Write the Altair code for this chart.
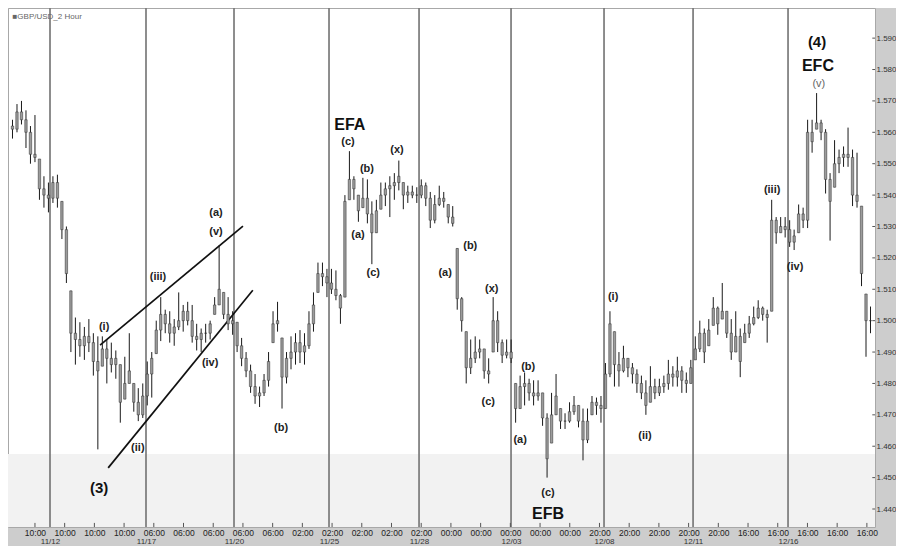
import altair as alt
import pandas as pd

# ---------------- data ----------------
high = [
    1.5640, 1.5690, 1.5700, 1.5670, 1.5620, 1.5655, 1.5515, 1.5460, 1.5440, 1.5460,
    1.5465, 1.5380, 1.5300, 1.5095, 1.5010, 1.4995, 1.4980, 1.5005, 1.4960, 1.4950,
    1.4950, 1.4940, 1.4930, 1.4905, 1.4860, 1.4885, 1.4960, 1.4800, 1.4785, 1.4800,
    1.4870, 1.4900, 1.5000, 1.5075, 1.5035, 1.5030, 1.5005, 1.5090, 1.5050, 1.5060,
    1.5050, 1.4990, 1.4975, 1.4990, 1.5000, 1.5075, 1.5240, 1.5090, 1.5075, 1.5030,
    1.4995, 1.4945, 1.4900, 1.4860, 1.4830, 1.4790, 1.4830, 1.4900, 1.5030, 1.5060,
    1.4945, 1.4900, 1.4950, 1.4960, 1.4970, 1.4960, 1.5030, 1.5090, 1.5185, 1.5185,
    1.5165, 1.5165, 1.5160, 1.5085, 1.5400, 1.5540, 1.5460, 1.5400, 1.5455, 1.5450,
    1.5380, 1.5385, 1.5440, 1.5440, 1.5460, 1.5470, 1.5510, 1.5440, 1.5430, 1.5430,
    1.5425, 1.5450, 1.5440, 1.5410, 1.5400, 1.5430, 1.5410, 1.5370, 1.5365, 1.5230,
    1.5075, 1.4965, 1.4940, 1.4950, 1.4940, 1.4910, 1.4880, 1.5075, 1.5030, 1.4940,
    1.4940, 1.4940, 1.4800, 1.4825, 1.4835, 1.4815, 1.4810, 1.4810, 1.4770, 1.4705,
    1.4770, 1.4830, 1.4720, 1.4705, 1.4740, 1.4760, 1.4730, 1.4720, 1.4720, 1.4760,
    1.4755, 1.4760, 1.4865, 1.5030, 1.4965, 1.4900, 1.4920, 1.4880, 1.4865, 1.4845,
    1.4825, 1.4810, 1.4855, 1.4815, 1.4815, 1.4825, 1.4875, 1.4855, 1.4885, 1.4855,
    1.4835, 1.4875, 1.4950, 1.5000, 1.4975, 1.5005, 1.5075, 1.5045, 1.5120, 1.5030,
    1.5005, 1.5030, 1.4975, 1.4990, 1.5015, 1.5045, 1.5065, 1.5045, 1.5035, 1.5385,
    1.5330, 1.5330, 1.5330, 1.5320, 1.5290, 1.5370, 1.5360, 1.5640, 1.5640, 1.5725,
    1.5640, 1.5610, 1.5470, 1.5575, 1.5545, 1.5555, 1.5615, 1.5545, 1.5535, 1.5365,
    1.5085, 1.5045,
]
low = [
    1.5580, 1.5600, 1.5625, 1.5550, 1.5500, 1.5505, 1.5385, 1.5360, 1.5345, 1.5375,
    1.5360, 1.5260, 1.5120, 1.4900, 1.4860, 1.4885, 1.4875, 1.4900, 1.4825, 1.4590,
    1.4855, 1.4800, 1.4835, 1.4815, 1.4675, 1.4750, 1.4800, 1.4710, 1.4680, 1.4690,
    1.4730, 1.4755, 1.4895, 1.4935, 1.4960, 1.4930, 1.4920, 1.4970, 1.4965, 1.4985,
    1.4930, 1.4905, 1.4900, 1.4930, 1.4940, 1.5020, 1.5050, 1.5005, 1.4970, 1.4955,
    1.4900, 1.4855, 1.4820, 1.4770, 1.4735, 1.4725, 1.4760, 1.4790, 1.4930, 1.4965,
    1.4720, 1.4800, 1.4845, 1.4860, 1.4865, 1.4860, 1.4910, 1.4965, 1.5090, 1.5110,
    1.5075, 1.5085, 1.5065, 1.4990, 1.5075, 1.5385, 1.5385, 1.5315, 1.5360, 1.5310,
    1.5180, 1.5280, 1.5355, 1.5365, 1.5330, 1.5385, 1.5415, 1.5355, 1.5375, 1.5390,
    1.5375, 1.5390, 1.5365, 1.5295, 1.5310, 1.5365, 1.5360, 1.5310, 1.5300, 1.5035,
    1.4965, 1.4800, 1.4830, 1.4865, 1.4880, 1.4815, 1.4800, 1.4900, 1.4900, 1.4865,
    1.4880, 1.4865, 1.4675, 1.4720, 1.4730, 1.4745, 1.4730, 1.4745, 1.4665, 1.4500,
    1.4610, 1.4700, 1.4655, 1.4655, 1.4675, 1.4700, 1.4660, 1.4555, 1.4610, 1.4700,
    1.4700, 1.4675, 1.4720, 1.4820, 1.4790, 1.4790, 1.4835, 1.4820, 1.4800, 1.4770,
    1.4750, 1.4700, 1.4740, 1.4750, 1.4760, 1.4770, 1.4780, 1.4790, 1.4790, 1.4770,
    1.4770, 1.4800, 1.4875, 1.4900, 1.4865, 1.4920, 1.4985, 1.4955, 1.5005, 1.4945,
    1.4875, 1.4900, 1.4820, 1.4930, 1.4945, 1.4985, 1.5005, 1.5000, 1.4930, 1.5030,
    1.5245, 1.5280, 1.5265, 1.5235, 1.5225, 1.5280, 1.5295, 1.5295, 1.5535, 1.5610,
    1.5575, 1.5405, 1.5255, 1.5425, 1.5470, 1.5490, 1.5490, 1.5365, 1.5360, 1.5110,
    1.4885, 1.4960,
]
close = [
    1.5610, 1.5665, 1.5640, 1.5600, 1.5530, 1.5520, 1.5420, 1.5400, 1.5390, 1.5440,
    1.5390, 1.5290, 1.5150, 1.4960, 1.4940, 1.4920, 1.4950, 1.4930, 1.4870, 1.4840,
    1.4910, 1.4880, 1.4860, 1.4880, 1.4740, 1.4800, 1.4840, 1.4740, 1.4700, 1.4760,
    1.4830, 1.4880, 1.4970, 1.5020, 1.4990, 1.4960, 1.4980, 1.5000, 1.5030, 1.5000,
    1.4950, 1.4940, 1.4960, 1.4960, 1.4990, 1.5050, 1.5100, 1.5020, 1.4990, 1.5000,
    1.4920, 1.4880, 1.4840, 1.4790, 1.4760, 1.4770, 1.4810, 1.4870, 1.4990, 1.5000,
    1.4820, 1.4880, 1.4900, 1.4930, 1.4900, 1.4920, 1.4990, 1.5050, 1.5150, 1.5140,
    1.5120, 1.5100, 1.5080, 1.5040, 1.5380, 1.5450, 1.5420, 1.5350, 1.5390, 1.5340,
    1.5280, 1.5350, 1.5400, 1.5420, 1.5430, 1.5440, 1.5460, 1.5400, 1.5410, 1.5400,
    1.5400, 1.5430, 1.5390, 1.5320, 1.5370, 1.5390, 1.5380, 1.5330, 1.5310, 1.5070,
    1.5000, 1.4850, 1.4880, 1.4900, 1.4910, 1.4840, 1.4830, 1.5000, 1.4930, 1.4890,
    1.4900, 1.4880, 1.4720, 1.4790, 1.4800, 1.4770, 1.4760, 1.4770, 1.4690, 1.4560,
    1.4700, 1.4760, 1.4680, 1.4680, 1.4710, 1.4730, 1.4680, 1.4620, 1.4680, 1.4740,
    1.4730, 1.4720, 1.4830, 1.4990, 1.4860, 1.4840, 1.4880, 1.4850, 1.4830, 1.4800,
    1.4770, 1.4730, 1.4790, 1.4770, 1.4790, 1.4800, 1.4830, 1.4820, 1.4840, 1.4810,
    1.4800, 1.4850, 1.4910, 1.4960, 1.4900, 1.4970, 1.5040, 1.4990, 1.5030, 1.4960,
    1.4900, 1.4950, 1.4870, 1.4960, 1.4990, 1.5010, 1.5040, 1.5020, 1.5010, 1.5320,
    1.5280, 1.5300, 1.5290, 1.5250, 1.5270, 1.5340, 1.5320, 1.5600, 1.5570, 1.5630,
    1.5600, 1.5450, 1.5380, 1.5500, 1.5520, 1.5530, 1.5520, 1.5400, 1.5380, 1.5150,
    1.5000, 1.5000,
]
first_open = 1.5620

# axis tick labels (one per trading day) and date labels at the session dividers
time_labels = (["10:00"] * 4 + ["06:00"] * 5 + ["02:00"] * 5 +
               ["00:00"] * 5 + ["20:00"] * 5 + ["16:00"] * 5)
date_labels = ["11/12", "11/17", "11/20", "11/25", "11/28", "12/03", "12/08", "12/11", "12/16"]
divider_pos = [9.35, 30.72, 50.31, 71.46, 91.5, 111.98, 132.68, 152.5, 173.64]
price_ticks = [1.44, 1.45, 1.46, 1.47, 1.48, 1.49, 1.50, 1.51, 1.52,
               1.53, 1.54, 1.55, 1.56, 1.57, 1.58, 1.59]

# wave annotations: text, bar position, price
wave_text = ["(i)", "(ii)", "(iii)", "(iv)", "(a)", "(v)", "(b)",
             "(c)", "(b)", "(a)", "(c)", "(x)",
             "(b)", "(a)", "(x)", "(c)", "(b)", "(a)", "(c)",
             "(i)", "(ii)", "(iii)", "(iv)"]
wave_x = [21.4, 28.9, 33.4, 45.0, 46.3, 46.3, 60.8,
          75.7, 79.9, 77.9, 81.3, 86.6,
          102.9, 97.3, 107.7, 106.9, 115.8, 114.0, 120.2,
          134.7, 141.8, 170.1, 175.2]
wave_y = [1.4980, 1.4594, 1.5139, 1.4865, 1.5343, 1.5282, 1.4658,
          1.5569, 1.5483, 1.5273, 1.5152, 1.5543,
          1.5238, 1.5152, 1.5101, 1.4741, 1.4852, 1.4620, 1.4451,
          1.5075, 1.4633, 1.5416, 1.5171]

big_text = ["(3)", "EFA", "EFB", "EFC", "(4)"]
big_x = [20.3, 76.1, 120.2, 180.3, 180.1]
big_y = [1.4467, 1.5623, 1.4384, 1.5811, 1.5887]
big_size = [15, 16, 16, 16, 15]

faint_text = ["(v)"]
faint_x = [180.5]
faint_y = [1.5754]

# channel lines of the ending diagonal
line_x1 = [20.5, 22.3]
line_y1 = [1.4922, 1.4531]
line_x2 = [52.3, 54.5]
line_y2 = [1.5301, 1.5097]

# ---------------- tables ----------------
n = len(high)
bar_x = list(range(1, n + 1))
opens = [first_open] + close[:-1]
opens = [min(max(o, l), h) for o, l, h in zip(opens, low, high)]
bars = pd.DataFrame({"x": bar_x, "open": opens, "high": high, "low": low, "close": close})
bars["top"] = bars[["open", "close"]].max(axis=1)
bars["bot"] = bars[["open", "close"]].min(axis=1)

tick_pos = [round(6.0 + 6.614 * k, 3) for k in range(len(time_labels))]

PLOT_W, PLOT_H = 867, 519
X_DOM = [0, 193]
Y_DOM = [1.43427, 1.5996]
xs = alt.Scale(domain=X_DOM, nice=False, zero=False, padding=0)
ys = alt.Scale(domain=Y_DOM, nice=False, zero=False, padding=0)
FONT = "Liberation Sans"


def step_expr(vals, labels):
    expr = "'%s'" % labels[-1]
    for i in range(len(vals) - 2, -1, -1):
        mid = (vals[i] + vals[i + 1]) / 2
        expr = "datum.value < %.3f ? '%s' : %s" % (mid, labels[i], expr)
    return expr


time_expr = step_expr(tick_pos, time_labels)
date_expr = step_expr(divider_pos, date_labels)

band = alt.Chart(pd.DataFrame({"x": [X_DOM[0]], "x2": [X_DOM[1]],
                               "y": [Y_DOM[0]], "y2": [1.4575]})).mark_rect(
    color="#f2f2f2").encode(
    x=alt.X("x:Q", scale=xs, axis=None), x2="x2:Q",
    y=alt.Y("y:Q", scale=ys, axis=None), y2="y2:Q")

dividers = alt.Chart(pd.DataFrame({"x": divider_pos})).mark_rule(
    color="#7a7a7a", strokeWidth=1.7).encode(
    x=alt.X("x:Q", scale=xs, axis=alt.Axis(
        orient="bottom", values=divider_pos, labelExpr=date_expr, ticks=False,
        domain=False, grid=False, labelFontSize=8, labelPadding=10,
        labelColor="#333", labelFont=FONT, title=None, labelOverlap=False,
        labelFlush=False)),
    y=alt.value(0), y2=alt.value(PLOT_H))

inner_ticks = alt.Chart(pd.DataFrame({"x": tick_pos, "y0": [Y_DOM[0]] * len(tick_pos),
                                      "y1": [Y_DOM[0] + 0.0013] * len(tick_pos)})).mark_rule(
    color="#555", strokeWidth=1).encode(
    x=alt.X("x:Q", scale=xs, axis=None),
    y=alt.Y("y0:Q", scale=ys, axis=None), y2="y1:Q")

right_ticks = alt.Chart(pd.DataFrame({"y": price_ticks,
                                      "x0": [X_DOM[1] - 0.6] * len(price_ticks),
                                      "x1": [X_DOM[1]] * len(price_ticks)})).mark_rule(
    color="#555", strokeWidth=1).encode(
    x=alt.X("x0:Q", scale=xs, axis=None), x2="x1:Q",
    y=alt.Y("y:Q", scale=ys, axis=None))

channel = alt.Chart(pd.DataFrame({"x": line_x1, "y": line_y1,
                                  "x2": line_x2, "y2": line_y2})).mark_rule(
    color="#111", strokeWidth=1.7).encode(
    x=alt.X("x:Q", scale=xs, axis=None), x2="x2:Q",
    y=alt.Y("y:Q", scale=ys, axis=None), y2="y2:Q")

wicks = alt.Chart(bars).mark_rule(color="#1a1a1a", strokeWidth=1).encode(
    x=alt.X("x:Q", scale=xs, axis=alt.Axis(
        orient="bottom", values=tick_pos, labelExpr=time_expr, ticks=False,
        domain=False, grid=False, labelFontSize=8.5, labelPadding=1,
        labelColor="#222", labelFont=FONT, title=None, labelOverlap=False,
        labelFlush=False, labelBound=False)),
    y=alt.Y("low:Q", scale=ys, axis=alt.Axis(
        orient="right", values=price_ticks, format=".3f", ticks=False,
        domain=False, grid=False, labelFontSize=8,
        labelPadding=1, labelColor="#333", labelFont=FONT, title=None,
        labelOverlap=False, labelFlush=False)),
    y2="high:Q")

bodies = alt.Chart(bars).mark_bar(size=2.4, color="#9c9c9c", stroke="#2a2a2a",
                                  strokeWidth=0.5).encode(
    x=alt.X("x:Q", scale=xs, axis=None),
    y=alt.Y("bot:Q", scale=ys, axis=None), y2="top:Q")

waves = alt.Chart(pd.DataFrame({"t": wave_text, "x": wave_x, "y": wave_y})).mark_text(
    font=FONT, fontSize=11, fontWeight="bold", color="#222").encode(
    x=alt.X("x:Q", scale=xs, axis=None), y=alt.Y("y:Q", scale=ys, axis=None),
    text="t:N")

bigs = alt.Chart(pd.DataFrame({"t": big_text, "x": big_x, "y": big_y,
                               "s": big_size})).mark_text(
    font=FONT, fontWeight="bold", color="#111").encode(
    x=alt.X("x:Q", scale=xs, axis=None), y=alt.Y("y:Q", scale=ys, axis=None),
    size=alt.Size("s:Q", scale=None, legend=None), text="t:N")

faint = alt.Chart(pd.DataFrame({"t": faint_text, "x": faint_x, "y": faint_y})).mark_text(
    font=FONT, fontSize=11, color="#666").encode(
    x=alt.X("x:Q", scale=xs, axis=None), y=alt.Y("y:Q", scale=ys, axis=None),
    text="t:N")

title = alt.Chart(pd.DataFrame({"t": ["\u25a0GBP/USD_2 Hour"], "x": [1.0],
                                "y": [1.5967]})).mark_text(
    font=FONT, fontSize=8, color="#666", align="left").encode(
    x=alt.X("x:Q", scale=xs, axis=None), y=alt.Y("y:Q", scale=ys, axis=None),
    text="t:N")

chart = alt.layer(band, dividers, inner_ticks, right_ticks, channel, wicks, bodies,
                  waves, bigs, faint, title).resolve_axis(
    x="independent", y="independent").properties(
    width=PLOT_W, height=PLOT_H, background="#cdcdcd",
    padding={"left": 0, "top": 0, "right": 21, "bottom": 19},
    autosize=alt.AutoSizeParams(type="none")).configure_view(
    fill="white", stroke="#a8a8a8")

chart.save("out.html", embed_options={"renderer": "svg", "actions": False})
